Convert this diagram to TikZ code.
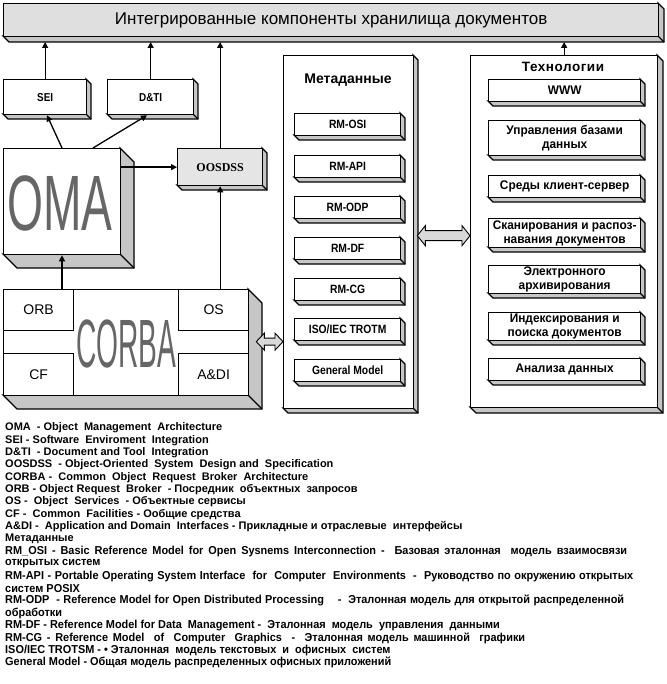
\documentclass[tikz,border=0pt]{standalone}
\usepackage{fontspec}
\setmainfont{Liberation Sans}
\newfontfamily\narrowfont[FakeStretch=0.86]{Liberation Sans}
\newfontfamily\legfont[FakeStretch=0.95]{Liberation Sans}
\newfontfamily\techfont[FakeStretch=0.95]{Liberation Sans}
\newfontfamily\spacedfont[LetterSpace=4]{Liberation Sans}
\newfontfamily\seriffont{Liberation Serif}
\usetikzlibrary{arrows.meta,calc}
\tikzset{
  front/.style={draw, line width=1.3pt, fill=white, inner sep=0pt, anchor=north west, align=center},
  shade3d/.style={draw, line width=1.3pt, fill=gray!45, line join=miter},
  conn/.style={line width=1.3pt, -{Triangle[length=6pt,width=6pt]}},
  blockarr/.style={draw, line width=0.9pt, fill=gray!30, line join=miter},
  cell/.style={draw, line width=1.3pt, fill=white, inner sep=0pt, anchor=north west, font=\fontsize{14}{16}\selectfont},
  metabox/.style={font=\narrowfont\bfseries\fontsize{12}{14}\selectfont},
  techbox/.style={font=\techfont\bfseries\fontsize{12.5}{14}\selectfont},
  smallbox/.style={font=\narrowfont\bfseries\fontsize{11.5}{13}\selectfont},
  legA/.style={anchor=west, inner sep=0pt, font=\bfseries\fontsize{11}{12}\selectfont},
  legB/.style={anchor=west, inner sep=0pt, font=\legfont\bfseries\fontsize{11.5}{12}\selectfont},
  bigtext/.style={inner sep=0pt, text=black!60},
}
% name, x1, y1, x2, y2, depth, options, text
\newcommand\tdbox[8]{%
  \draw[shade3d] (#4,#3) -- (#4+#6,#3+#6) -- (#4+#6,#5+#6) -- (#2+#6,#5+#6) -- (#2,#5) -- (#4,#5) -- cycle;
  \draw[shade3d] (#4,#5) -- (#4+#6,#5+#6);
  \node[front, minimum width={#4-#2}, minimum height={#5-#3}, #7] (#1) at (#2,#3) {#8};
}
% start, end, shaft half, head half, head length
\newcommand\dblarrow[5]{%
  \draw[blockarr] (#1) -- ($(#1)+(#5,-#4)$) -- ($(#1)+(#5,-#3)$) -- ($(#2)+(-#5,-#3)$) -- ($(#2)+(-#5,-#4)$) -- (#2)
    -- ($(#2)+(-#5,#4)$) -- ($(#2)+(-#5,#3)$) -- ($(#1)+(#5,#3)$) -- ($(#1)+(#5,#4)$) -- cycle;
}
\begin{document}
\begin{tikzpicture}[x=1pt,y=-1pt]
\useasboundingbox[fill=white] (0,0) rectangle (666,684);

% top bar
\tdbox{bar}{3}{3}{658}{36}{6}{fill=gray!25, font=\fontsize{17}{19}\selectfont}{Интегрированные компоненты хранилища документов}
\coordinate (barbot) at (0,42);

% SEI, D&TI
\tdbox{sei}{3}{79}{86}{114}{5}{smallbox}{SEI}
\tdbox{dti}{107}{79}{193}{114}{5}{smallbox}{D\&TI}

% OMA
\tdbox{oma}{3}{148}{120}{254}{14}{}{}
\node[bigtext] (omatext) at (60,203) {\scalebox{0.6}[1.02]{\fontsize{77}{77}\selectfont OMA}};

% OOSDSS
\tdbox{oosdss}{177}{148}{262}{185}{5}{fill=gray!20, font=\seriffont\bfseries\fontsize{12}{13}\selectfont}{OOSDSS}

% CORBA
\tdbox{corba}{3}{289}{248}{395}{14}{}{}
\node[cell, minimum width=70pt, minimum height=41pt] (orb) at (3,289) {ORB};
\node[cell, minimum width=70pt, minimum height=42pt] (cf) at (3,353) {CF};
\node[cell, minimum width=70pt, minimum height=41pt] (os) at (178,289) {OS};
\node[cell, minimum width=70pt, minimum height=42pt] (adi) at (178,353) {A\&DI};
\node[bigtext] (corbatext) at (126.5,344) {\scalebox{0.42}[1.02]{\fontsize{67}{67}\selectfont CORBA}};

% Metadata column
\tdbox{meta}{283}{55}{413}{408}{5}{}{}
\node[font=\bfseries\fontsize{14}{15}\selectfont] (metatitle) at (348,80) {Метаданные};
\tdbox{m1}{294}{113}{400}{135}{5}{metabox}{RM-OSI}
\tdbox{m2}{294}{155}{400}{177}{5}{metabox}{RM-API}
\tdbox{m3}{294}{196}{400}{218}{5}{metabox}{RM-ODP}
\tdbox{m4}{294}{237}{400}{259}{5}{metabox}{RM-DF}
\tdbox{m5}{294}{278}{400}{300}{5}{metabox}{RM-CG}
\tdbox{m6}{294}{318}{400}{340}{5}{metabox}{ISO/IEC TROTM}
\tdbox{m7}{294}{359}{400}{381}{5}{metabox}{General Model}

% Technologies column
\tdbox{tech}{470}{55}{657}{407}{6}{}{}
\node[font=\spacedfont\bfseries\fontsize{13.5}{15}\selectfont] (techtitle) at (563,67) {Технологии};
\tdbox{t1}{488}{79}{640}{101}{5}{techbox}{WWW}
\tdbox{t2}{488}{120}{640}{155}{5}{techbox}{Управления базами\\данных}
\tdbox{t3}{488}{175}{640}{197}{5}{techbox}{Среды клиент-сервер}
\tdbox{t4}{488}{218}{640}{247}{5}{techbox}{Сканирования и распоз-\\навания документов}
\tdbox{t5}{488}{265}{640}{293}{5}{techbox}{Электронного\\архивирования}
\tdbox{t6}{488}{312}{640}{340}{5}{techbox}{Индексирования и\\поиска документов}
\tdbox{t7}{488}{358}{640}{380}{5}{techbox}{Анализа данных}

% connectors
\draw[conn] (sei.north) -- (sei.north |- barbot);
\draw[conn] (dti.north) -- (dti.north |- barbot);
\draw[conn] (oosdss.north) -- (oosdss.north |- barbot);
\draw[conn] (tech.north) -- (tech.north |- barbot);
\draw[conn] ([xshift=59pt]oma.north west) -- ([xshift=44pt]sei.south west);
\draw[conn] ([xshift=90pt]oma.north west) -- ([xshift=40pt]dti.south west);
\draw[conn] (oma.east |- oosdss.west) -- (oosdss.west);
\draw[conn] ([xshift=59pt]corba.north west) -- ([xshift=59pt]oma.south west);
\draw[conn] (oosdss.south |- os.north) -- (oosdss.south);

% block double arrows
\coordinate (a1) at ($(corba.east)+(7,-1)$);
\coordinate (a2) at (meta.west |- a1);
\dblarrow{a1}{a2}{3.5}{8.5}{8}
\coordinate (b1) at ($(meta.east)+(3,3.5)$);
\coordinate (b2) at (tech.west |- b1);
\dblarrow{b1}{b2}{5}{10}{8}

% legend
\foreach \t [count=\i] in {
  {OMA~ - Object~ Management~ Architecture},
  {SEI - Software~ Enviroment~ Integration},
  {D\&TI~ - Document and Tool~ Integration},
  {OOSDSS~ - Object-Oriented~ System~ Design and~ Specification},
  {CORBA - ~Common~ Object~ Request~ Broker~ Architecture},
  {ORB - Object Request~ Broker~ - Посредник~ объектных~ запросов},
  {OS - ~Object~ Services~ - Объектные сервисы},
  {CF - ~Common~ Facilities - Ообщие средства},
  {A\&DI - ~Application and Domain~ Interfaces - Прикладные и отраслевые~ интерфейсы},
  {Метаданные}}
  \node[legA] (la\i) at (5,{428+(\i-1)*12.35}) {\t};
\foreach \t [count=\i] in {
  {\makebox[622pt][s]{RM\_OSI - Basic Reference Model for Open Sysnems Interconnection - ~Базовая эталонная~ модель взаимосвязи}},
  {открытых систем},
  {\makebox[628pt][s]{RM-API - Portable Operating System Interface~ for~ Computer~ Environments~ - ~Руководство по окружению открытых}},
  {систем POSIX},
  {\makebox[619pt][s]{RM-ODP~ - Reference Model for Open Distributed Processing~ ~ - ~Эталонная модель для открытой распределенной}},
  {обработки},
  {RM-DF - Reference Model for Data~ Management - ~Эталонная~ модель~ управления~ данными},
  {\makebox[520pt][s]{RM-CG - Reference Model~ of~ Computer~ Graphics~ - ~Эталонная модель машинной~ графики}},
  {ISO/IEC TROTSM - • Эталонная~ модель текстовых~ и~ офисных~ систем},
  {General Model - Общая модель распределенных офисных приложений}}
  \node[legB] (lb\i) at (5,{551.5+(\i-1)*12.35}) {\t};
\end{tikzpicture}
\end{document}
